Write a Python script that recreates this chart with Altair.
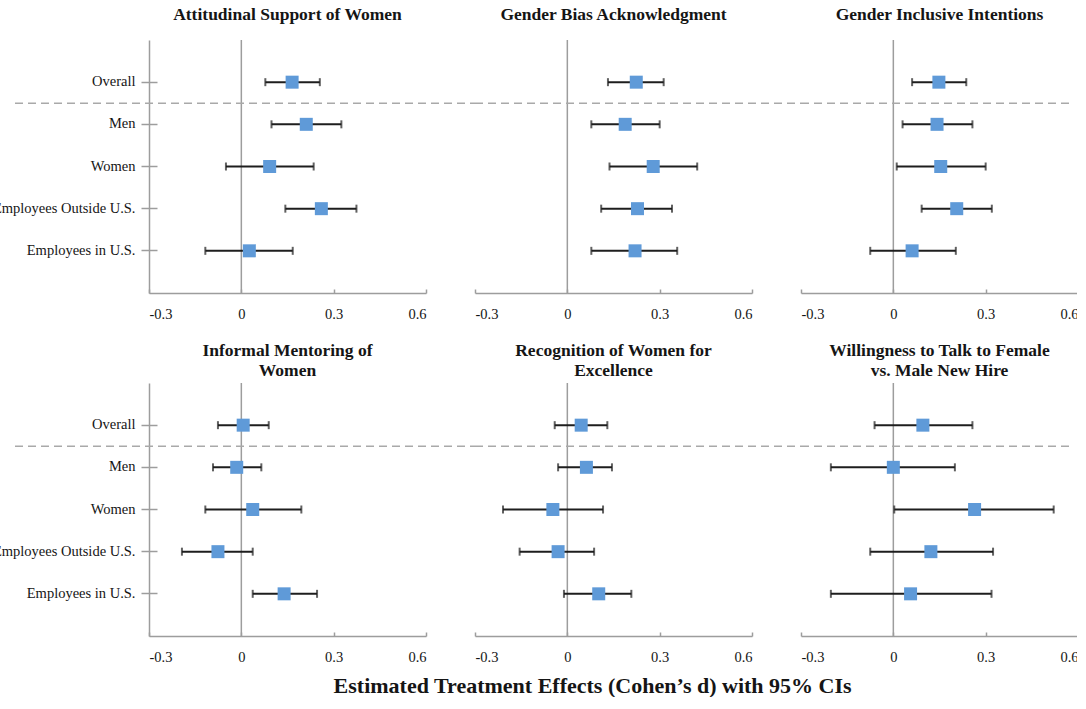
import altair as alt
import pandas as pd

categories = ["Overall", "Men", "Women", "Employees Outside U.S.", "Employees in U.S."]

panel_titles = [
    ["Attitudinal Support of Women"],
    ["Gender Bias Acknowledgment"],
    ["Gender Inclusive Intentions"],
    ["Informal Mentoring of", "Women"],
    ["Recognition of Women for", "Excellence"],
    ["Willingness to Talk to Female", "vs. Male New Hire"],
]

# point estimates (Cohen's d) per panel, in category order
est_1 = [0.165, 0.211, 0.092, 0.260, 0.026]
est_2 = [0.224, 0.188, 0.279, 0.228, 0.220]
est_3 = [0.148, 0.142, 0.154, 0.206, 0.061]
est_4 = [0.006, -0.015, 0.037, -0.076, 0.139]
est_5 = [0.045, 0.062, -0.047, -0.030, 0.102]
est_6 = [0.096, 0.000, 0.264, 0.122, 0.056]

# lower 95% CI bounds
lo_1 = [0.078, 0.098, -0.050, 0.143, -0.117]
lo_2 = [0.132, 0.078, 0.137, 0.110, 0.078]
lo_3 = [0.061, 0.030, 0.011, 0.092, -0.075]
lo_4 = [-0.076, -0.092, -0.117, -0.193, 0.037]
lo_5 = [-0.041, -0.030, -0.209, -0.155, -0.011]
lo_6 = [-0.061, -0.203, 0.003, -0.075, -0.203]

# upper 95% CI bounds
hi_1 = [0.255, 0.325, 0.235, 0.374, 0.167]
hi_2 = [0.313, 0.300, 0.422, 0.340, 0.357]
hi_3 = [0.237, 0.257, 0.300, 0.320, 0.203]
hi_4 = [0.089, 0.065, 0.195, 0.037, 0.246]
hi_5 = [0.130, 0.145, 0.116, 0.087, 0.208]
hi_6 = [0.257, 0.200, 0.521, 0.324, 0.319]

x_domain = [-0.3, 0.6]
x_ticks = [-0.3, 0, 0.3, 0.6]
zero_line = [0.0]

ests = [est_1, est_2, est_3, est_4, est_5, est_6]
los = [lo_1, lo_2, lo_3, lo_4, lo_5, lo_6]
his = [hi_1, hi_2, hi_3, hi_4, hi_5, hi_6]

W, H = 277, 253
HSP = 49
SERIF = "Liberation Serif"
AXIS_GRAY = "#9d9d9d"
BAR = "#1e1e1e"
BLUE = "#5f9ad8"
TXT = "#151515"

LABEL_EXPR = "(datum.value < 0 ? '-' : '') + format(abs(datum.value), '.1~f')"


def panel(k, col, row):
    left = col == 0
    df = pd.DataFrame({"cat": categories, "est": ests[k], "lo": los[k], "hi": his[k]})
    base = alt.Chart(df)
    xs = alt.Scale(domain=x_domain, nice=False, zero=False)
    ys = alt.Scale(domain=categories, paddingInner=0, paddingOuter=0.5)

    def Y(axis=None, **kw):
        return alt.Y("cat:N", scale=ys, axis=axis, title=None, **kw)

    x_main = alt.Axis(orient="bottom", values=x_ticks, labelExpr=LABEL_EXPR, ticks=False,
                      domain=True, domainColor=AXIS_GRAY, domainWidth=1.5, grid=False,
                      labelFont=SERIF, labelFontSize=14.5, labelColor=TXT,
                      labelPadding=14, title=None)
    x_tk = alt.Axis(orient="bottom", values=x_ticks, labels=False, domain=False, ticks=True,
                    tickSize=4, tickColor=AXIS_GRAY, tickWidth=1.5, offset=-4, grid=False,
                    title=None)
    y_main = None
    y_tk = None
    if left:
        y_main = alt.Axis(orient="left", domain=True, domainColor=AXIS_GRAY, domainWidth=1.5,
                          ticks=True, tickSize=8, tickColor=AXIS_GRAY, tickWidth=1.5,
                          grid=False, labelFont=SERIF, labelFontSize=14.5, labelColor=TXT,
                          labelPadding=6, labelLimit=400, title=None)
        y_tk = alt.Axis(orient="left", labels=False, domain=False, ticks=True, tickSize=8,
                        tickColor=AXIS_GRAY, tickWidth=1.5, offset=-8, grid=False,
                        title=None)

    zero = alt.Chart(pd.DataFrame({"z": zero_line})).mark_rule(
        color=AXIS_GRAY, strokeWidth=1.5
    ).encode(x=alt.X("z:Q", scale=xs, axis=x_main))

    # dashed separator spanning the whole row (through the gaps between panels)
    x_start = -134 if left else 0
    x_end = W + HSP if col < 2 else W - 6
    sep = base.transform_filter(alt.datum.cat == "Overall").mark_rule(
        strokeDash=[8, 5], color="#a9a9a9", strokeWidth=1.5
    ).encode(y=Y(bandPosition=1), x=alt.value(x_start), x2=alt.value(x_end))

    err = base.mark_rule(color=BAR, strokeWidth=2).encode(
        x=alt.X("lo:Q", scale=xs, axis=x_tk), x2="hi:Q", y=Y(y_tk)
    )
    cap_lo = base.mark_tick(color=BAR, thickness=2, size=8).encode(
        x=alt.X("lo:Q", scale=xs, axis=None), y=Y()
    )
    cap_hi = base.mark_tick(color=BAR, thickness=2, size=8).encode(
        x=alt.X("hi:Q", scale=xs, axis=None), y=Y()
    )
    sq = base.mark_square(size=169, color=BLUE, opacity=1, filled=True).encode(
        x=alt.X("est:Q", scale=xs, axis=None), y=Y(y_main)
    )

    title = alt.TitleParams(
        text=panel_titles[k], font=SERIF, fontSize=17.5, fontWeight="bold", color=TXT,
        frame="group", anchor="middle", lineHeight=20,
        offset=16 if row == 0 else 3,
    )
    return alt.layer(zero, sep, err, cap_lo, cap_hi, sq).properties(
        width=W, height=H, title=title
    ).resolve_axis(x="independent", y="independent")


row1 = alt.hconcat(panel(0, 0, 0), panel(1, 1, 0), panel(2, 2, 0), spacing=HSP, bounds="flush")
row2 = alt.hconcat(panel(3, 0, 1), panel(4, 1, 1), panel(5, 2, 1), spacing=HSP, bounds="flush")

chart = alt.vconcat(row1, row2, spacing=20).properties(
    title=alt.TitleParams(
        text="Estimated Treatment Effects (Cohen\u2019s d) with 95% CIs",
        orient="bottom", font=SERIF, fontSize=22, fontWeight="bold", color=TXT,
        anchor="middle", offset=12, dx=57,
    ),
    padding={"left": -8, "right": -2, "top": 5, "bottom": 0},
    background="white",
).configure_view(stroke=None)

chart.save("out.html", embed_options={"renderer": "svg", "actions": False})
